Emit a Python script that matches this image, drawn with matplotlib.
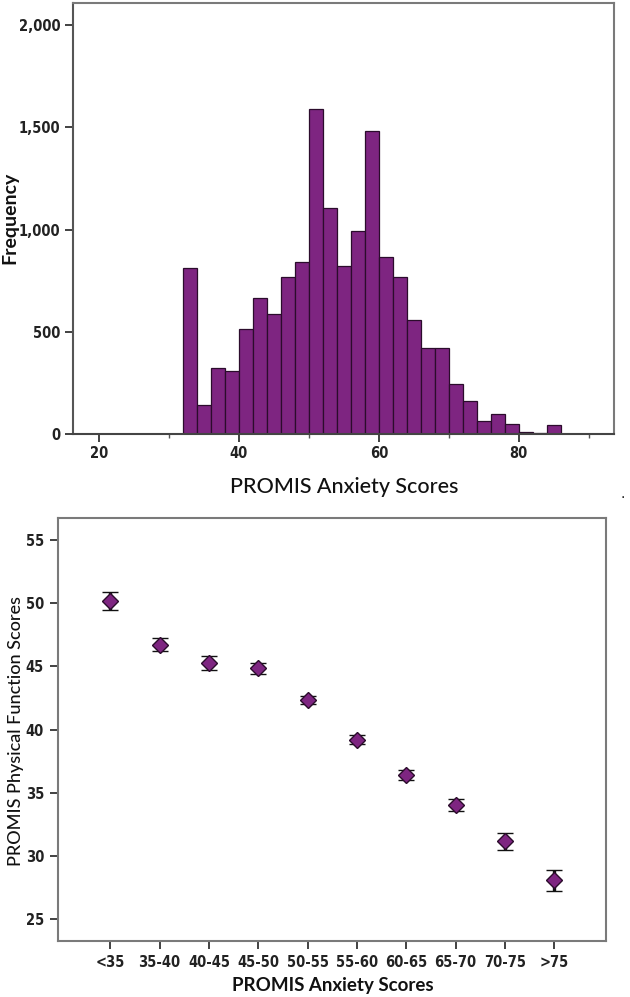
import matplotlib
matplotlib.use("Agg")
import matplotlib.pyplot as plt
from matplotlib import font_manager
import numpy as np

# histogram of PROMIS anxiety scores (bins of width 2)
bin_edges = np.arange(32, 88, 2)
counts = [812, 144, 325, 306, 516, 667, 588, 766, 840, 1590,
          1106, 824, 995, 1485, 868, 768, 557, 422, 423, 247,
          160, 65, 100, 51, 11, 3, 46]

# mean physical function by anxiety group with error bars
groups = ["<35", "35-40", "40-45", "45-50", "50-55", "55-60", "60-65", "65-70", "70-75", ">75"]
pf_mean = [50.13, 46.71, 45.26, 44.82, 42.32, 39.18, 36.39, 34.03, 31.16, 28.08]
pf_err = [0.70, 0.55, 0.55, 0.40, 0.33, 0.35, 0.40, 0.45, 0.66, 0.84]

purple = "#7e2581"
edge = "#2b0c2c"
frame = "#7a7a7a"
label_font = ["Lato", "DejaVu Sans"]

# narrow bold face for tick labels, if a condensed one is around
names = {f.name for f in font_manager.fontManager.ttflist}
narrow = [n for n in ["Liberation Sans Narrow", "DejaVu Sans Condensed"] if n in names]
tick_font = narrow + ["DejaVu Sans"]


def style_ticks(ax, size):
    for lab in ax.get_xticklabels() + ax.get_yticklabels():
        lab.set_family(tick_font)
        lab.set_stretch("condensed")
        lab.set_fontweight("bold")
        lab.set_fontsize(size)
        lab.set_color("#222222")
    for s in ax.spines.values():
        s.set_color(frame)
        s.set_linewidth(1.5)


fig = plt.figure(figsize=(6.3, 9.97), dpi=100)

# ---- top: histogram
ax1 = fig.add_axes([73/630, 1-434/997, (614-73)/630, (434-3)/997])
ax1.bar(bin_edges[:-1], counts, width=2, align="edge", color=purple,
        edgecolor=edge, linewidth=0.9)
ax1.set_xlim(16.3, 93.6)
ax1.set_ylim(0, 2109)
ax1.set_xticks([20, 40, 60, 80])
ax1.set_xticks([30, 50, 70, 90], minor=True)
ax1.set_yticks([0, 500, 1000, 1500, 2000])
ax1.set_yticklabels(["0", "500", "1,000", "1,500", "2,000"])
ax1.tick_params(which="major", direction="out", length=6, width=1.3, color="#333333", pad=3)
ax1.tick_params(which="minor", direction="out", length=3, width=1.0, color="#555555")
style_ticks(ax1, 10.5)
ax1.spines["bottom"].set_color("#444444")
ax1.spines["left"].set_color("#555555")

fig.text(10/630, 1-218/997, "Frequency", rotation=90, ha="center", va="center",
         fontsize=14, fontweight="bold", family=label_font, color="#111111")
fig.text(344/630, 1-487/997, "PROMIS Anxiety Scores", ha="center", va="center",
         fontsize=15.5, family=label_font, fontweight="medium", color="#111111")
fig.text(623/630, 1-494/997, ".", ha="center", va="center", fontsize=10, color="#111111")

# ---- bottom: means with error bars
ax2 = fig.add_axes([58/630, 1-941/997, (606-58)/630, (941-518)/997])
x = np.arange(len(groups))
ax2.errorbar(x, pf_mean, yerr=pf_err, fmt="D", markersize=8, mfc=purple, mec=edge,
             mew=1.0, ecolor="#111111", elinewidth=2.4, capsize=5.5, capthick=3.0, zorder=3)
ax2.set_xlim(-1.06, 10.05)
ax2.set_ylim(23.3, 56.7)
ax2.set_xticks(x)
ax2.set_xticklabels(groups)
ax2.set_yticks([25, 30, 35, 40, 45, 50, 55])
ax2.tick_params(direction="out", length=6, width=1.3, color="#333333", pad=4)
style_ticks(ax2, 10.5)

fig.text(16/630, 1-731/997, "PROMIS Physical Function Scores", rotation=90, ha="center",
         va="center", fontsize=13, family=label_font, fontweight="medium", color="#111111")
fig.text(333/630, 1-985/997, "PROMIS Anxiety Scores", ha="center", va="center",
         fontsize=13.5, fontweight="bold", family=label_font, color="#111111")

fig.savefig("out.png", dpi=100)
